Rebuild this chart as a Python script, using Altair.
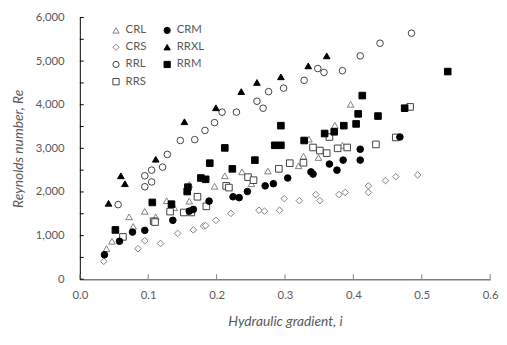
import altair as alt
import pandas as pd

# legend is laid out column-first: column 1 = CRL, CRS, RRL, RRS ; column 2 = CRM, RRXL, RRM
series_order = ["CRL", "CRS", "RRL", "RRS", "CRM", "RRXL", "RRM"]

crl_i = [0.039, 0.047, 0.072, 0.078, 0.095, 0.111, 0.127, 0.138, 0.160, 0.160, 0.197, 0.212, 0.237, 0.251, 0.275, 0.320, 0.327, 0.335, 0.349, 0.373, 0.384, 0.396]
crl_re = [700, 870, 1430, 1210, 1555, 1430, 1800, 1640, 1790, 2170, 2130, 2370, 2460, 2190, 2480, 2600, 2820, 3210, 2790, 3530, 3070, 4010]

crm_i = [0.036, 0.058, 0.077, 0.095, 0.136, 0.160, 0.166, 0.189, 0.224, 0.233, 0.245, 0.271, 0.283, 0.304, 0.338, 0.341, 0.365, 0.376, 0.385, 0.410, 0.410, 0.468]
crm_re = [560, 870, 1080, 1120, 1350, 1560, 1600, 1790, 1890, 1870, 2010, 2140, 2190, 2320, 2460, 2410, 2640, 2500, 2730, 2730, 2980, 3260]

crs_i = [0.035, 0.085, 0.095, 0.118, 0.143, 0.166, 0.181, 0.184, 0.199, 0.221, 0.262, 0.270, 0.292, 0.299, 0.321, 0.345, 0.351, 0.379, 0.388, 0.422, 0.422, 0.447, 0.462, 0.494]
crs_re = [410, 700, 880, 820, 1050, 1130, 1220, 1230, 1350, 1510, 1580, 1560, 1580, 1850, 1800, 1940, 1800, 1940, 1990, 1990, 2140, 2260, 2350, 2390]

rrxl_i = [0.042, 0.060, 0.066, 0.111, 0.153, 0.199, 0.236, 0.259, 0.294, 0.334, 0.361]
rrxl_re = [1740, 2370, 2190, 2750, 3610, 3930, 4300, 4510, 4640, 4890, 5120]

rrl_i = [0.056, 0.095, 0.105, 0.095, 0.105, 0.121, 0.128, 0.147, 0.168, 0.183, 0.197, 0.208, 0.229, 0.259, 0.268, 0.276, 0.298, 0.328, 0.348, 0.357, 0.384, 0.410, 0.439, 0.485]
rrl_re = [1710, 2120, 2230, 2370, 2500, 2570, 2860, 3180, 3200, 3410, 3590, 3830, 3830, 4080, 3920, 4300, 4380, 4560, 4830, 4740, 4780, 5120, 5410, 5640]

rrm_i = [0.052, 0.106, 0.134, 0.157, 0.158, 0.177, 0.184, 0.190, 0.212, 0.223, 0.256, 0.285, 0.294, 0.294, 0.328, 0.358, 0.372, 0.386, 0.404, 0.407, 0.413, 0.436, 0.475, 0.538]
rrm_re = [1130, 1760, 1720, 2010, 2110, 2320, 2290, 2660, 3010, 2530, 2730, 3070, 3070, 3520, 3180, 3340, 3380, 3520, 3560, 3790, 4210, 3740, 3920, 4760]

rrs_i = [0.063, 0.108, 0.110, 0.132, 0.152, 0.163, 0.172, 0.185, 0.214, 0.218, 0.246, 0.254, 0.291, 0.307, 0.327, 0.341, 0.351, 0.361, 0.365, 0.377, 0.391, 0.433, 0.462, 0.483]
rrs_re = [970, 1330, 1310, 1550, 1530, 1530, 1890, 1670, 2140, 2100, 2340, 2270, 2530, 2660, 2670, 3020, 2950, 2890, 3260, 3000, 3020, 3090, 3250, 3950]

x_tick_values = [0.0, 0.1, 0.2, 0.3, 0.4, 0.5, 0.6]
y_label_values = [0, 1000, 2000, 3000, 4000, 5000, 6000]
y_tick_values = [0, 500, 1000, 1500, 2000, 2500, 3000, 3500, 4000, 4500, 5000, 5500, 6000]

shape_of = {"CRL": "triangle-up", "CRM": "circle", "CRS": "diamond", "RRXL": "triangle-up",
            "RRL": "circle", "RRM": "square", "RRS": "square"}
fill_of = {"CRL": "white", "CRM": "black", "CRS": "white", "RRXL": "black",
           "RRL": "white", "RRM": "black", "RRS": "white"}
stroke_of = {"CRL": "#7f7f7f", "CRM": "black", "CRS": "#7f7f7f", "RRXL": "black",
             "RRL": "#404040", "RRM": "black", "RRS": "#404040"}
shapes = [shape_of[s] for s in series_order]
fills = [fill_of[s] for s in series_order]
strokes = [stroke_of[s] for s in series_order]

W, H = 417, 266

frames = []
for name, xs, ys in [
    ("CRL", crl_i, crl_re), ("CRS", crs_i, crs_re), ("RRL", rrl_i, rrl_re),
    ("RRS", rrs_i, rrs_re), ("CRM", crm_i, crm_re), ("RRXL", rrxl_i, rrxl_re),
    ("RRM", rrm_i, rrm_re),
]:
    frames.append(pd.DataFrame({"i": xs, "Re": ys, "Series": name}))
df = pd.concat(frames, ignore_index=True)

xscale = alt.Scale(domain=[0, 0.6], nice=False)
yscale = alt.Scale(domain=[0, 6000], nice=False)

x_axis = alt.Axis(
    values=x_tick_values, labelExpr="format(datum.value, '.1f')", title="Hydraulic gradient, i",
    ticks=False, grid=False, labelPadding=11, titlePadding=14, labelOverlap=False,
    labelFlush=False, labelBound=False,
    domainColor="#7f7f7f", domainWidth=1.5,
)
y_axis = alt.Axis(
    values=y_label_values, labelExpr="format(datum.value, ',')", title="Reynolds number, Re",
    ticks=False, grid=False, labelPadding=16, titlePadding=10, labelOverlap=False,
    labelFlush=False, labelBound=False,
    domainColor="#000000", domainWidth=1,
)

leg = alt.Legend(
    title=None, orient="none", legendX=31, legendY=7, columns=2,
    symbolSize=40, symbolStrokeWidth=1, labelFontSize=11.5, labelColor="#595959",
    labelFont="Lato", columnPadding=15, rowPadding=4.5, labelOffset=4,
)

points = alt.Chart(df).mark_point(filled=True, size=45, strokeWidth=1, opacity=1).encode(
    x=alt.X("i:Q", scale=xscale, axis=x_axis),
    y=alt.Y("Re:Q", scale=yscale, axis=y_axis),
    shape=alt.Shape("Series:N", scale=alt.Scale(domain=series_order, range=shapes), legend=leg),
    fill=alt.Fill("Series:N", scale=alt.Scale(domain=series_order, range=fills), legend=leg),
    stroke=alt.Stroke("Series:N", scale=alt.Scale(domain=series_order, range=strokes), legend=leg),
)

yt = alt.Chart(pd.DataFrame({"Re": y_tick_values})).mark_rule(color="#000000", strokeWidth=1).encode(
    y=alt.Y("Re:Q", scale=yscale, axis=y_axis),
    x=alt.value(0), x2=alt.value(4),
)
xt = alt.Chart(pd.DataFrame({"i": x_tick_values})).mark_rule(color="#7f7f7f", strokeWidth=1).encode(
    x=alt.X("i:Q", scale=xscale, axis=x_axis),
    y=alt.value(H), y2=alt.value(H - 5),
)

chart = alt.layer(points, yt, xt).properties(
    width=W, height=H,
    autosize=alt.AutoSizeParams(type="none"),
    padding={"left": 73, "top": 7, "right": 9, "bottom": 50},
).configure_view(stroke=None).configure_axis(
    labelFont="Lato", labelFontSize=11.5, labelColor="#595959",
    titleFont="Lato", titleFontSize=14, titleFontStyle="italic", titleFontWeight="normal",
    titleColor="#595959",
)

chart.save("out.html", embed_options={"renderer": "svg", "actions": False})
